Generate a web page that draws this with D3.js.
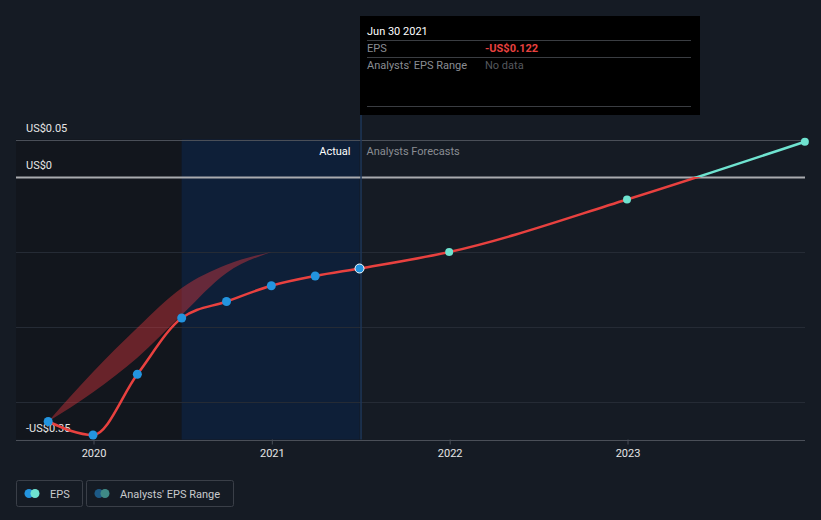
<!DOCTYPE html>
<html>
<head>
<meta charset="utf-8">
<script src="https://cdn.jsdelivr.net/npm/d3@7"></script>
<style>
    body { margin: 0; background: #151b24; }
    svg { display: block; font-family: Roboto, "Open Sans", sans-serif; }
</style>
</head>
<body>
<svg id="chart" width="821" height="520"></svg>
<script>
/*globals d3 */

// EPS values, actual (quarterly trailing) and forecasts.
var actualDates = ["2019-09-30", "2019-12-31", "2020-03-31", "2020-06-30",
                   "2020-09-30", "2020-12-31", "2021-03-31", "2021-06-30"];
var actualEps = [-0.326, -0.344, -0.263, -0.188, -0.166, -0.145, -0.132, -0.122];

var forecastDates = ["2021-06-30", "2021-12-31", "2022-12-31", "2023-12-31"];
var forecastEps = [-0.122, -0.100, -0.030, 0.047];

// Past analysts' range.
var rangeDates = ["2019-09-30", "2019-12-31", "2020-03-31", "2020-06-30", "2020-09-30", "2020-12-31"];
var rangeLow = [-0.326, -0.287, -0.241, -0.184, -0.128, -0.100];
var rangeHigh = [-0.326, -0.260, -0.201, -0.148, -0.117, -0.100];

var yTicks = [0.05, 0, -0.1, -0.2, -0.3, -0.35];
var yLabels = [[0.05, "US$0.05"], [0, "US$0"], [-0.35, "-US$0.35"]];
var xTickYears = [2020, 2021, 2022, 2023];

var parse = d3.timeParse("%Y-%m-%d");

var svg = d3.select("#chart"),
    plotLeft = 16,
    plotRight = 805,
    plotTop = 139.5,
    plotBottom = 439.5;

var x = d3.scaleTime()
    .domain([new Date(2020, 0, 1), new Date(2023, 0, 1)])
    .range([93.5, 627.5]);

var y = d3.scaleLinear()
    .domain([-0.35, 0.05])
    .range([plotBottom, plotTop]);

var actual = actualDates.map(function (d, i) {
    return {date: parse(d), v: actualEps[i]};
});
var forecast = forecastDates.map(function (d, i) {
    return {date: parse(d), v: forecastEps[i]};
});
var range = rangeDates.map(function (d, i) {
    return {date: parse(d), lo: rangeLow[i], hi: rangeHigh[i]};
});

var lastActual = actual[actual.length - 1].date;
var oneYearBack = d3.timeYear.offset(lastActual, -1);

// Shaded regions: past (dark) and last year of actuals (blue).
svg.append("rect")
    .attr("x", plotLeft)
    .attr("y", plotTop)
    .attr("width", x(oneYearBack) - plotLeft)
    .attr("height", plotBottom - plotTop)
    .attr("fill", "#12161d");

svg.append("rect")
    .attr("x", x(oneYearBack))
    .attr("y", plotTop)
    .attr("width", x(lastActual) - x(oneYearBack))
    .attr("height", plotBottom - plotTop)
    .attr("fill", "#0e1f38");

// Gridlines.
svg.append("g")
    .selectAll("line")
    .data(yTicks)
    .join("line")
    .attr("x1", plotLeft)
    .attr("x2", plotRight)
    .attr("y1", function (d) { return Math.round(y(d)) + 0.5; })
    .attr("y2", function (d) { return Math.round(y(d)) + 0.5; })
    .attr("stroke", function (d) {
        if (d === 0) { return "#a9abaf"; }
        if (d === 0.05 || d === -0.35) { return "#4a4f58"; }
        return "#252b35";
    })
    .attr("stroke-width", function (d) { return d === 0 ? 2 : 1.2; });

// X axis.
var xAxis = d3.axisBottom(x)
    .tickValues(xTickYears.map(function (yr) { return new Date(yr, 0, 1); }))
    .tickFormat(d3.timeFormat("%Y"))
    .tickSize(5)
    .tickPadding(5);

var xg = svg.append("g")
    .attr("transform", "translate(0," + plotBottom + ")")
    .call(xAxis);
xg.select(".domain").remove();
xg.selectAll(".tick line").attr("stroke", "#4a4f58");
xg.selectAll(".tick text")
    .attr("fill", "#e6e6e6")
    .attr("font-size", 11)
    .attr("font-family", "Roboto, sans-serif");

// Y labels.
svg.append("g")
    .selectAll("text")
    .data(yLabels)
    .join("text")
    .attr("x", 26)
    .attr("y", function (d) { return y(d[0]) - 8; })
    .attr("fill", "#e6e6e6")
    .attr("font-size", 11)
    .text(function (d) { return d[1]; });

// Actual / Forecast divider.
svg.append("line")
    .attr("x1", x(lastActual) + 1.5)
    .attr("x2", x(lastActual) + 1.5)
    .attr("y1", 115)
    .attr("y2", plotBottom)
    .attr("stroke", "#1d3658")
    .attr("stroke-width", 1.5);

svg.append("text")
    .attr("x", x(lastActual) - 9)
    .attr("y", 155)
    .attr("text-anchor", "end")
    .attr("fill", "#ffffff")
    .attr("font-size", 11)
    .text("Actual");

svg.append("text")
    .attr("x", x(lastActual) + 7)
    .attr("y", 155)
    .attr("fill", "#8a8d93")
    .attr("font-size", 11)
    .text("Analysts Forecasts");

// Analysts' range band.
svg.append("path")
    .datum(range)
    .attr("d", d3.area()
        .curve(d3.curveMonotoneX)
        .x(function (d) { return x(d.date); })
        .y0(function (d) { return y(d.lo); })
        .y1(function (d) { return y(d.hi); }))
    .attr("fill", "#e0383e")
    .attr("fill-opacity", 0.42);

// EPS line split at zero.
var defs = svg.append("defs");
defs.append("clipPath").attr("id", "below")
    .append("rect").attr("x", 0).attr("y", y(0)).attr("width", 821).attr("height", 400);
defs.append("clipPath").attr("id", "above")
    .append("rect").attr("x", 0).attr("y", 0).attr("width", 821).attr("height", y(0));

var all = actual.concat(forecast.slice(1));
var line = d3.line()
    .curve(d3.curveMonotoneX)
    .x(function (d) { return x(d.date); })
    .y(function (d) { return y(d.v); });

svg.append("path")
    .datum(all)
    .attr("d", line)
    .attr("fill", "none")
    .attr("stroke", "#e8413f")
    .attr("stroke-width", 2.5)
    .attr("clip-path", "url(#below)");

svg.append("path")
    .datum(all)
    .attr("d", line)
    .attr("fill", "none")
    .attr("stroke", "#6fe3d0")
    .attr("stroke-width", 2.5)
    .attr("clip-path", "url(#above)");

// Points.
svg.append("g")
    .selectAll("circle")
    .data(forecast.slice(1))
    .join("circle")
    .attr("cx", function (d) { return x(d.date); })
    .attr("cy", function (d) { return y(d.v); })
    .attr("r", 4)
    .attr("fill", "#6fe3d0");

svg.append("g")
    .selectAll("circle")
    .data(actual)
    .join("circle")
    .attr("cx", function (d) { return x(d.date); })
    .attr("cy", function (d) { return y(d.v); })
    .attr("r", 4.5)
    .attr("fill", "#2394df")
    .attr("stroke", function (d, i) { return i === actual.length - 1 ? "#ffffff" : "none"; })
    .attr("stroke-width", 1);

// Tooltip.
var tip = svg.append("g").attr("transform", "translate(360,16)");
tip.append("rect")
    .attr("width", 340)
    .attr("height", 99)
    .attr("fill", "#000000");
tip.append("text")
    .attr("x", 7).attr("y", 19)
    .attr("fill", "#ffffff").attr("font-size", 11)
    .text(d3.timeFormat("%b %d %Y")(lastActual));
[24.5, 41.5, 90.5].forEach(function (yy) {
    tip.append("line")
        .attr("x1", 7).attr("x2", 331)
        .attr("y1", yy).attr("y2", yy)
        .attr("stroke", "#3a3d42");
});
tip.append("text")
    .attr("x", 7).attr("y", 36)
    .attr("fill", "#8a8d93").attr("font-size", 11)
    .text("EPS");
tip.append("text")
    .attr("x", 125).attr("y", 36)
    .attr("fill", "#e8413f").attr("font-size", 11).attr("font-weight", "bold")
    .text("-US$" + Math.abs(actualEps[actualEps.length - 1]).toFixed(3));
tip.append("text")
    .attr("x", 7).attr("y", 53)
    .attr("fill", "#8a8d93").attr("font-size", 11)
    .text("Analysts' EPS Range");
tip.append("text")
    .attr("x", 125).attr("y", 53)
    .attr("fill", "#55585e").attr("font-size", 11)
    .text("No data");

// Legend.
var legend = [
    {label: "EPS", x: 16, w: 66, c1: "#2394df", c2: "#6fe3d0"},
    {label: "Analysts' EPS Range", x: 86, w: 147, c1: "#1d5a86", c2: "#3f8a86"}
];
var lg = svg.append("g")
    .selectAll("g")
    .data(legend)
    .join("g")
    .attr("transform", function (d) { return "translate(" + d.x + ",480)"; });
lg.append("rect")
    .attr("x", 0.5).attr("y", 0.5)
    .attr("width", function (d) { return d.w; })
    .attr("height", 26)
    .attr("rx", 2)
    .attr("fill", "none")
    .attr("stroke", "#3a3f48");
lg.append("circle")
    .attr("cx", 13).attr("cy", 13.5).attr("r", 4.5)
    .attr("fill", function (d) { return d.c1; });
lg.append("circle")
    .attr("cx", 19).attr("cy", 13.5).attr("r", 4.5)
    .attr("fill", function (d) { return d.c2; });
lg.append("text")
    .attr("x", 34).attr("y", 17.5)
    .attr("fill", "#c8cacd").attr("font-size", 11)
    .text(function (d) { return d.label; });
</script>
</body>
</html>
